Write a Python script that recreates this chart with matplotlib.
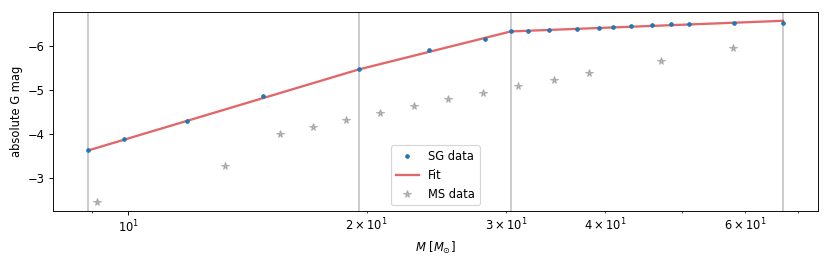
import numpy as np
import matplotlib
matplotlib.use("Agg")
import matplotlib.pyplot as plt

# SG data
sg_mass = [8.91, 9.89, 11.88, 14.81, 19.56, 23.97, 28.22, 30.41, 31.98, 33.96,
           36.80, 39.23, 40.93, 43.12, 45.83, 48.34, 50.94, 58.05, 66.99]
sg_mag = [-3.63, -3.88, -4.30, -4.85, -5.47, -5.89, -6.14, -6.32, -6.33, -6.36,
          -6.37, -6.39, -6.42, -6.45, -6.47, -6.48, -6.49, -6.51, -6.51]

# Fit breakpoints
fit_mass = [8.91, 19.54, 30.4, 67.0]
fit_mag = [-3.63, -5.46, -6.32, -6.56]

# MS data
ms_mass = [9.12, 13.23, 15.53, 17.10, 18.83, 20.78, 22.93, 25.35, 28.04, 31.00,
           34.42, 38.11, 47.00, 57.99]
ms_mag = [-2.46, -3.28, -4.00, -4.15, -4.32, -4.47, -4.63, -4.79, -4.93, -5.08,
          -5.22, -5.38, -5.66, -5.95]

# vertical break lines
vlines = [8.91, 19.54, 30.4, 67.0]

DPI = 83
fig = plt.figure(figsize=(830 / DPI, 266 / DPI), dpi=DPI)
ax = fig.add_axes([0.064, 0.207, 0.921, 0.748])

for v in vlines:
    ax.axvline(v, color="grey", alpha=0.4, lw=1.7, zorder=1)

ax.plot(sg_mass, sg_mag, ".", color="tab:blue", ms=6, label="SG data", zorder=3)
ax.plot(fit_mass, fit_mag, "-", color="tab:red", alpha=0.7, lw=2, label="Fit", zorder=2)
ax.plot(ms_mass, ms_mag, "*", color="grey", alpha=0.5, ms=6.5, label="MS data", zorder=2)

ax.set_xscale("log")
ax.set_xlim(8.04, 74.1)
ax.set_ylim(-2.26, -6.76)
ax.set_xlabel(r"$M$ [$M_{\odot}$]")
ax.set_ylabel("absolute G mag")
ax.legend(loc="lower center")

fig.savefig("out.png", dpi=DPI)
